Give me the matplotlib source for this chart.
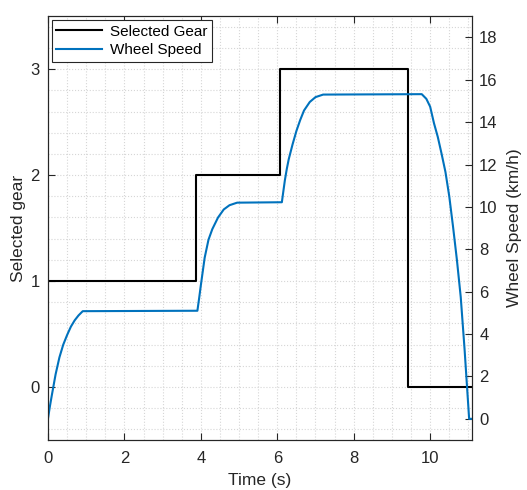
import numpy as np
import matplotlib.pyplot as plt
from matplotlib.ticker import MultipleLocator

plt.rcParams['font.family'] = ['Liberation Sans', 'DejaVu Sans']

# Gear steps (value holds until next time)
gear_time = [0, 3.87, 6.07, 9.42, 11.1]
gear = [1, 2, 3, 0, 0]

# Wheel speed
speed_time = [0, 0.05, 0.1, 0.2, 0.3, 0.4, 0.5, 0.6, 0.7, 0.8, 0.91,
              3.91, 3.96, 4.0, 4.05, 4.1, 4.2, 4.3, 4.45, 4.6, 4.75, 4.95,
              6.12, 6.16, 6.2, 6.25, 6.3, 6.4, 6.5, 6.6, 6.7, 6.85, 7.0, 7.2,
              9.78, 9.9, 10.0, 10.1, 10.2, 10.3, 10.4, 10.5, 10.6, 10.7,
              10.8, 10.9, 11.02, 11.1]
speed = [0, 0.58, 1.1, 2.1, 2.9, 3.5, 3.95, 4.35, 4.65, 4.88, 5.08,
         5.1, 5.75, 6.3, 6.95, 7.6, 8.45, 8.95, 9.5, 9.88, 10.08, 10.2,
         10.22, 10.75, 11.27, 11.8, 12.25, 12.95, 13.58, 14.1, 14.55, 14.95, 15.18, 15.3,
         15.32, 15.1, 14.73, 13.95, 13.3, 12.5, 11.65, 10.5, 9.05, 7.5,
         5.75, 3.3, 0, 0]

axis_col = '#262626'
blue = '#0072BD'

fig = plt.figure(figsize=(5.27, 4.9), dpi=100)
ax = fig.add_axes([0.091, 0.102, 0.805, 0.865])
ax2 = ax.twinx()

l1, = ax.plot(gear_time, gear, drawstyle='steps-post', color='#000000',
              lw=1.5, label='Selected Gear')
l2, = ax2.plot(speed_time, speed, color=blue, lw=1.5, label='Wheel Speed')

ax.set_xlim(0, 11.1)
ax.set_ylim(-0.5, 3.5)
ax2.set_ylim(-1, 19)

ax.xaxis.set_major_locator(MultipleLocator(2))
ax.xaxis.set_minor_locator(MultipleLocator(0.5))
ax.yaxis.set_major_locator(MultipleLocator(1))
ax.yaxis.set_minor_locator(MultipleLocator(0.2))
ax2.yaxis.set_major_locator(MultipleLocator(2))

ax.grid(True, which='both', color='#d6d6d6', linestyle=':', lw=0.8)
ax.set_axisbelow(True)

ax.tick_params(which='major', direction='in', length=5, width=0.8,
               colors=axis_col, labelsize=12, top=True, right=False)
ax.tick_params(which='minor', length=0)
ax2.tick_params(which='major', direction='in', length=5, width=0.8,
                colors=axis_col, labelsize=12, pad=5)
ax.tick_params(axis='x', pad=8)
ax.tick_params(axis='y', pad=6)

for a in (ax, ax2):
    for s in a.spines.values():
        s.set_color(axis_col)
        s.set_linewidth(0.8)

ax.set_xlabel('Time (s)', fontsize=12.5, color=axis_col, labelpad=5)
ax.set_ylabel('Selected gear', fontsize=12.5, color=axis_col, labelpad=3)
ax2.set_ylabel('Wheel Speed (km/h)', fontsize=12.5, color=axis_col, labelpad=7)

leg = ax2.legend(handles=[l1, l2], loc='upper left', fontsize=11,
                 fancybox=False, framealpha=1, edgecolor=axis_col,
                 borderaxespad=0.25, handlelength=3.0, handletextpad=0.5,
                 borderpad=0.3, labelspacing=0.3)
leg.get_frame().set_linewidth(0.8)

fig.savefig('out.png', dpi=100)
